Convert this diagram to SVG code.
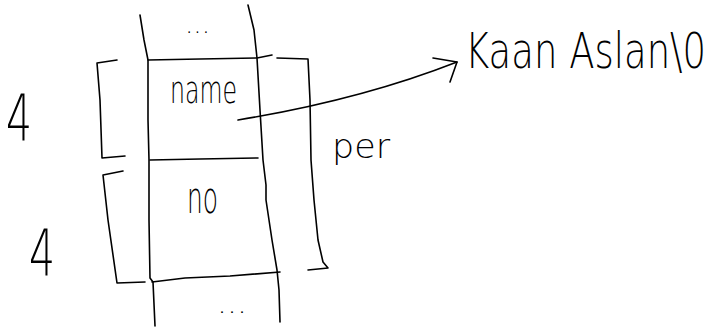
<svg xmlns="http://www.w3.org/2000/svg" width="720" height="329" viewBox="0 0 720 329">
  <style>
    .ink { fill: none; stroke: #000; stroke-width: 1.6; stroke-linecap: round; stroke-linejoin: round; }
    .hand { font-family: "DejaVu Sans", "Liberation Sans", sans-serif; font-weight: 200; fill: #000; }
  </style>
  <rect width="720" height="329" fill="#fff"/>

  <!-- memory column: two side walls -->
  <g id="column">
    <polyline class="ink" points="140,15 144,40 148,60 148,120 149,160 149,220 150,278 153,282 155,326"/>
    <polyline class="ink" points="248,5 254,30 257,58 260,110 263,160 266,185 266,200 272,240 277,270 279,290 280,322"/>
    <text class="hand" x="185" y="33" font-size="26" textLength="25" lengthAdjust="spacingAndGlyphs">...</text>
    <text class="hand" x="217" y="313" font-size="26" textLength="30" lengthAdjust="spacingAndGlyphs">...</text>
  </g>

  <!-- cell holding the name pointer -->
  <g id="cell-name">
    <polyline class="ink" points="148,60 200,59 257,58 272,55"/>
    <polyline class="ink" points="150,160 200,159 258,158"/>
    <text class="hand" x="170" y="103" font-size="38" textLength="67" lengthAdjust="spacingAndGlyphs">name</text>
  </g>

  <!-- cell holding the number -->
  <g id="cell-no">
    <polyline class="ink" points="152,282 185,278 230,276 280,272"/>
    <text class="hand" x="187" y="213" font-size="44" textLength="31" lengthAdjust="spacingAndGlyphs">no</text>
  </g>

  <!-- size bracket for name -->
  <g id="size-name">
    <polyline class="ink" points="117,60 97,63 100,100 102,158 125,156"/>
    <text class="hand" x="6" y="140" font-size="64" textLength="26" lengthAdjust="spacingAndGlyphs">4</text>
  </g>

  <!-- size bracket for no -->
  <g id="size-no">
    <polyline class="ink" points="123,171 103,175 108,220 117,283 145,282"/>
    <text class="hand" x="29" y="275" font-size="64" textLength="26" lengthAdjust="spacingAndGlyphs">4</text>
  </g>

  <!-- bracket spanning the whole per object -->
  <g id="per">
    <polyline class="ink" points="277,58 308,59 310,100 311,160 314,200 318,240 323,262 328,268 308,270"/>
    <text class="hand" x="332" y="158" font-size="34" textLength="58" lengthAdjust="spacingAndGlyphs">per</text>
  </g>

  <!-- the string the pointer refers to -->
  <g id="string">
    <text class="hand" transform="translate(465,68) scale(1,1.35)" x="0" y="0" font-size="37">Kaan Aslan\0</text>
  </g>

  <g id="connectors">
    <path class="ink" d="M238,120 Q360,100 457,62"/>
    <polyline class="ink" points="433,58 457,62 450,82"/>
  </g>
</svg>
